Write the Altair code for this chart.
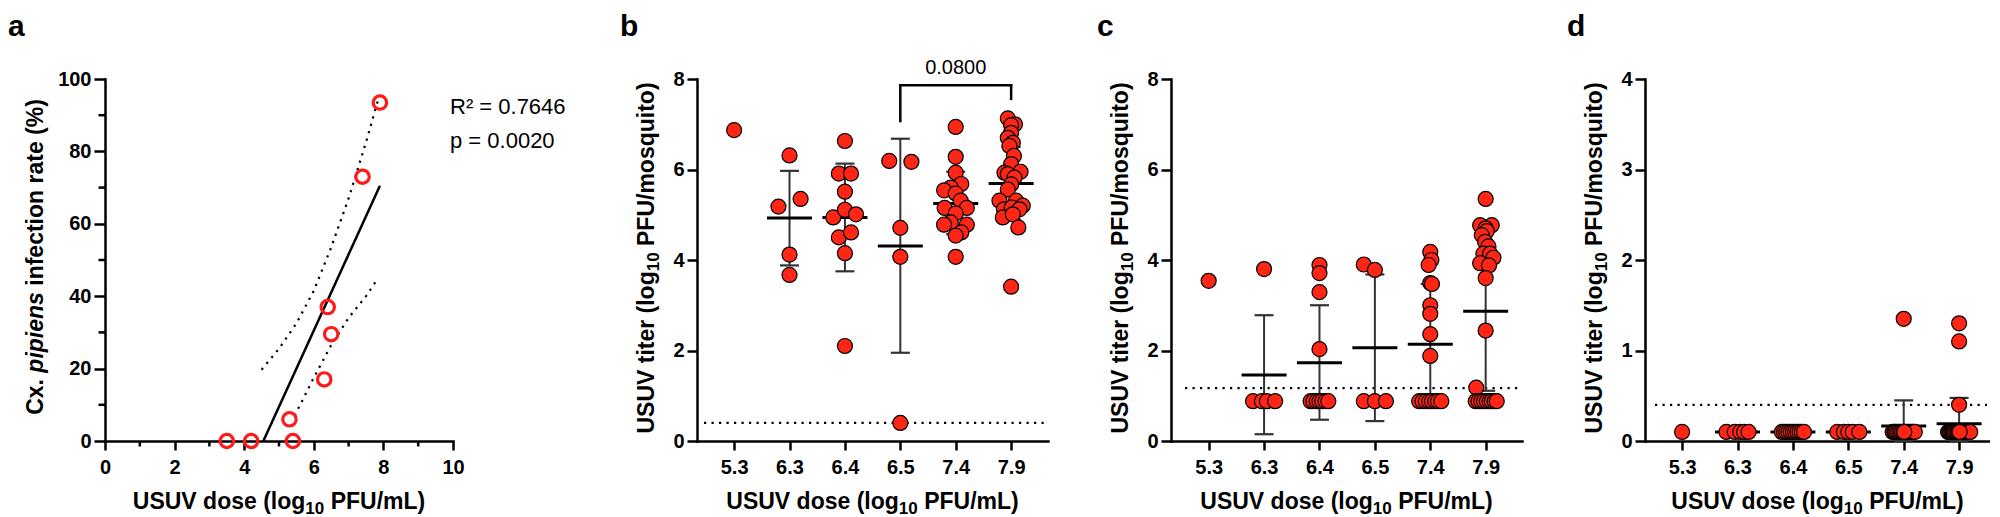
import altair as alt
import pandas as pd

FONT = "Liberation Sans"
RED_OPEN = "#FF1A1A"
RED_FILL = "#FF2616"

# ---------------- data ----------------
panel_labels = ["a", "b", "c", "d"]
dose_labels = ["5.3", "6.3", "6.4", "6.5", "7.4", "7.9"]

# panel a : infection rate vs dose
a_dose = [3.5, 4.2, 5.3, 5.4, 6.3, 6.4, 6.5, 7.4, 7.9]
a_rate = [0, 0, 6, 0, 17, 37, 29.5, 73, 93.5]
fit_dose = [4.55, 7.9]
fit_rate = [0, 70.5]
ci_hi_dose = [4.5, 5.0, 5.5, 6.0, 6.5, 7.0, 7.5, 7.84]
ci_hi_rate = [19.7, 25.5, 32.5, 41.5, 53.5, 67.0, 82.5, 94.0]
ci_lo_dose = [5.45, 6.0, 6.5, 7.0, 7.5, 7.82]
ci_lo_rate = [7.0, 17.5, 26.5, 34.0, 40.0, 44.6]
a_x_ticks = [0, 2, 4, 6, 8, 10]
a_x_minor = [1, 3, 5, 7, 9]
a_y_ticks = [0, 20, 40, 60, 80, 100]
a_y_minor = [10, 30, 50, 70, 90]
r2_text = "R² = 0.7646"
p_text = "p = 0.0020"

# panel b : body titer
b_titer = {
    "5.3": [6.87],
    "6.3": [6.31, 5.35, 5.18, 4.12, 3.67],
    "6.4": [6.63, 5.91, 5.91, 5.51, 4.94, 5.11, 5.01, 4.50, 4.61, 4.15, 2.10],
    "6.5": [6.19, 6.17, 4.71, 4.07, 0.40],
    "7.4": [6.94, 6.28, 5.93, 5.68, 5.60, 5.54, 5.47, 5.31, 5.15, 5.15, 5.03, 4.83, 4.78, 4.78, 4.61, 4.54, 4.07],
    "7.9": [7.13, 7.00, 6.98, 6.81, 6.70, 6.59, 6.52, 6.30, 6.12, 5.93, 5.95, 5.90, 5.82, 5.67, 5.56,
            5.31, 5.31, 5.20, 5.12, 5.16, 5.12, 4.94, 5.01, 4.72, 3.41],
}
b_jitter = {
    "5.3": [0],
    "6.3": [0, 0.2, -0.2, 0, 0],
    "6.4": [0, -0.11, 0.11, 0, -0.21, 0, 0.2, -0.11, 0.11, 0, 0],
    "6.5": [-0.2, 0.2, 0, 0, 0],
    "7.4": [0, 0, 0, 0.1, -0.09, -0.21, 0, 0.09, -0.2, 0.2, 0, -0.09, -0.21, 0.2, 0.1, 0, 0],
    "7.9": [-0.06, 0.07, 0, 0, -0.06, 0.03, -0.03, 0.05, 0, -0.12, 0.17, -0.06, 0.06, 0, -0.06,
            -0.21, 0.09, 0.21, -0.13, 0.01, 0.15, -0.15, 0.03, 0.13, 0],
}
b_mean = [4.93, 4.94, 4.31, 5.25, 5.69]      # groups 6.3 ... 7.9
b_sd_hi = [5.97, 6.13, 6.68, 5.95, 6.50]
b_sd_lo = [3.88, 3.75, 1.95, 4.57, 4.90]
b_lod = 0.40
b_p_text = "0.0800"
b_bracket_from, b_bracket_to = 3, 5
b_bracket_top, b_bracket_left_end, b_bracket_right_end = 7.86, 7.07, 7.56

# panel c : legs titer
c_titer = {
    "5.3": [3.54],
    "6.3": [3.80, 0.88, 0.88, 0.88, 0.88],
    "6.4": [3.89, 3.71, 3.29, 2.03, 0.88, 0.88, 0.88, 0.88, 0.88, 0.88, 0.88],
    "6.5": [3.90, 3.78, 0.88, 0.88, 0.88],
    "7.4": [4.18, 4.00, 3.89, 3.49, 3.47, 3.00, 2.81, 2.36, 1.88,
            0.88, 0.88, 0.88, 0.88, 0.88, 0.88, 0.88, 0.88],
    "7.9": [5.35, 4.77, 4.77, 4.70, 4.64, 4.55, 4.40, 4.30, 4.14, 4.14, 4.05, 3.93, 3.88, 3.60, 2.44, 1.18,
            0.88, 0.88, 0.88, 0.88, 0.88, 0.88, 0.88, 0.88, 0.88],
}
c_jitter = {
    "5.3": [0],
    "6.3": [0, -0.2, -0.04, 0.05, 0.2],
    "6.4": [0, 0, 0, 0, -0.16, -0.11, -0.05, 0, 0.05, 0.11, 0.16],
    "6.5": [-0.2, 0, -0.2, 0, 0.2],
    "7.4": [0, 0.02, -0.03, 0, 0.03, 0, 0, 0, 0,
            -0.2, -0.14, -0.08, -0.02, 0.03, 0.09, 0.14, 0.2],
    "7.9": [0, -0.1, 0.11, 0, 0.02, -0.07, -0.01, 0.05, -0.04, 0.08, 0.14, -0.1, 0.06, 0, 0, -0.17,
            -0.18, -0.13, -0.08, -0.03, 0.02, 0.07, 0.11, 0.16, 0.2],
}
c_mean = [1.46, 1.73, 2.06, 2.14, 2.87]
c_sd_hi = [2.78, 3.00, 3.68, 3.47, 4.63]
c_sd_lo = [0.15, 0.47, 0.44, 0.81, 1.11]
c_lod = 1.17

# panel d : saliva titer
d_titer = {
    "5.3": [0.1],
    "6.3": [0.1, 0.1, 0.1, 0.1, 0.1],
    "6.4": [0.1, 0.1, 0.1, 0.1, 0.1, 0.1, 0.1, 0.1, 0.1, 0.1, 0.1],
    "6.5": [0.1, 0.1, 0.1, 0.1, 0.1],
    "7.4": [1.35, 0.1, 0.1, 0.1, 0.1, 0.1, 0.1, 0.1, 0.1, 0.1, 0.1, 0.1, 0.1, 0.1, 0.1, 0.1, 0.1],
    "7.9": [1.30, 1.10, 0.40, 0.1, 0.1, 0.1, 0.1, 0.1, 0.1, 0.1, 0.1, 0.1, 0.1, 0.1, 0.1, 0.1,
            0.1, 0.1, 0.1, 0.1, 0.1, 0.1, 0.1, 0.1, 0.1],
}
d_jitter = {
    "5.3": [0],
    "6.3": [-0.2, -0.05, 0.05, 0.12, 0.2],
    "6.4": [-0.2, -0.16, -0.12, -0.08, -0.04, 0, 0.04, 0.08, 0.12, 0.16, 0.2],
    "6.5": [-0.2, -0.08, 0, 0.08, 0.2],
    "7.4": [0, -0.2, -0.17, -0.15, -0.12, -0.09, -0.06, -0.03, 0, 0.03, 0.06, 0.09, 0.12, 0.15, 0.17, 0.2, 0.01],
    "7.9": [0, 0, 0, -0.2, -0.18, -0.16, -0.14, -0.12, -0.1, -0.08, -0.05, -0.03, 0, 0.02, 0.04,
            0.06, 0.08, 0.1, 0.12, 0.14, 0.16, 0.18, 0.2, -0.01, 0.01],
}
d_mean = [0.1, 0.1, 0.1, 0.165, 0.19]
d_sd_hi = [0.1, 0.1, 0.1, 0.45, 0.476]
d_sd_lo = [0.1, 0.1, 0.1, 0.0, 0.0]
d_lod = 0.40

# ---------------- helpers ----------------
ONE = pd.DataFrame({"k": [0]})
W = {'U': .722, 'S': .667, 'V': .667, ' ': .278, 'd': .611, 'o': .611, 's': .556, 'e': .556,
     '(': .333, ')': .333, 'l': .278, 'g': .611, 'P': .667, 'F': .611, '/': .278, 'm': .889,
     'L': .611, 't': .333, 'i': .278, 'r': .389, 'q': .611, 'u': .611, 'C': .722, 'x': .556,
     '.': .278, 'p': .611, 'n': .611, 'f': .333, 'c': .556, 'a': .556, '%': .889, '1': .556, '0': .556}


def tw(s, size):
    return sum(W.get(ch, 0.556) for ch in s) * size


def T(text, x, y, size, angle=0, style="normal", weight="bold", align="left"):
    kw = dict(text=text, font=FONT, fontSize=size, fontWeight=weight, fontStyle=style,
              align=align, baseline="alphabetic", color="black")
    if angle:
        kw["angle"] = angle
    return alt.Chart(ONE).mark_text(**kw).encode(x=alt.value(x), y=alt.value(y))


def pieces_layers(pieces, anchor, center, vertical=False):
    total = sum(tw(s, sz) for s, sz, sh, st in pieces)
    pos = center + total / 2 if vertical else center - total / 2
    out = []
    for s, sz, sh, st in pieces:
        lead = len(s) - len(s.lstrip())
        txt = s.strip()
        if vertical:
            out.append(T(txt, anchor + sh, pos - lead * W[' '] * sz, sz, angle=270, style=st))
            pos -= tw(s, sz)
        else:
            out.append(T(txt, pos + lead * W[' '] * sz, anchor + sh, sz, style=st))
            pos += tw(s, sz)
    return out


TS = 23   # axis title font size
SUB = 17  # subscript font size
x_title = [("USUV dose (log", TS, 0, "normal"), ("10", SUB, 5, "normal"), (" PFU/mL)", TS, 0, "normal")]
y_title = [("USUV titer (log", TS, 0, "normal"), ("10", SUB, 5, "normal"), (" PFU/mosquito)", TS, 0, "normal")]
a_y_title = [("Cx. ", TS, 0, "normal"), ("pipiens", TS, 0, "italic"), (" infection rate (%)", TS, 0, "normal")]

H = 362
LBL_SIZE = 30
LBL_Y = -43
AX = dict(domainColor="black", domainWidth=2.5, domainCap="square", tickColor="black", tickWidth=2.5,
          labelFont=FONT, labelFontSize=20, labelFontWeight="bold", labelColor="black",
          grid=False, title=None, labelFlush=False, labelOverlap=False, labelBound=False)

# ---------------- panel a ----------------
ax_x = alt.X("x:Q", scale=alt.Scale(domain=[0, 10], nice=False, zero=False),
             axis=alt.Axis(values=a_x_ticks, tickSize=9, labelPadding=7, format="d", **AX))
ax_y = alt.Y("y:Q", scale=alt.Scale(domain=[0, 100], nice=False),
             axis=alt.Axis(values=a_y_ticks, tickSize=11, labelPadding=3, format="d", **AX))

A_W = 348
a_layers = [
    alt.Chart(pd.DataFrame({"x": fit_dose, "y": fit_rate})).mark_line(color="black", strokeWidth=2.5)
    .encode(x=ax_x, y=ax_y),
    alt.Chart(pd.DataFrame({"x": ci_hi_dose, "y": ci_hi_rate})).mark_line(
        color="black", strokeWidth=2.2, strokeDash=[2.2, 5.5]).encode(x=ax_x, y=ax_y),
    alt.Chart(pd.DataFrame({"x": ci_lo_dose, "y": ci_lo_rate})).mark_line(
        color="black", strokeWidth=2.2, strokeDash=[2.2, 5.5]).encode(x=ax_x, y=ax_y),
    alt.Chart(pd.DataFrame({"y": a_y_minor})).mark_rule(color="black", strokeWidth=2.5)
    .encode(y=ax_y, x=alt.value(-6.5), x2=alt.value(0)),
    alt.Chart(pd.DataFrame({"x": a_x_minor})).mark_rule(color="black", strokeWidth=2.5)
    .encode(x=ax_x, y=alt.value(H), y2=alt.value(H + 5.5)),
    alt.Chart(pd.DataFrame({"x": a_dose, "y": a_rate})).mark_point(
        shape="circle", filled=False, size=180, strokeWidth=3.2, color=RED_OPEN, opacity=1)
    .encode(x=ax_x, y=ax_y),
    T(r2_text, 345, 34.5, 22, weight="normal"),
    T(p_text, 345, 69.3, 22, weight="normal"),
    T(panel_labels[0], -97, LBL_Y, LBL_SIZE),
]
a_layers += pieces_layers(x_title, 430, A_W / 2)
a_layers += pieces_layers(a_y_title, -62.5, 178, vertical=True)
panel_a = alt.layer(*a_layers).properties(width=A_W, height=H)


# ---------------- dot panels ----------------
def dot_panel(titer, jitter, mean, hi, lo, lod, ymax, yticks, width, left, letter, letter_x, lod_x0,
              extra=None):
    step = 55.4
    right = left + width / step
    sx = alt.X("x:Q", scale=alt.Scale(domain=[left, right], nice=False, zero=False),
               axis=alt.Axis(values=list(range(len(dose_labels))), tickSize=9, labelPadding=7,
                             labelExpr="%s[datum.value]" % str(dose_labels), **AX))
    sy = alt.Y("y:Q", scale=alt.Scale(domain=[0, ymax], nice=False),
               axis=alt.Axis(values=yticks, tickSize=10, labelPadding=3, format="d", **AX))
    pts = []
    for i, lab in enumerate(dose_labels):
        for v, j in zip(titer[lab], jitter[lab]):
            pts.append({"x": i + j, "y": v})
    pts = pd.DataFrame(pts)
    idx = list(range(1, len(dose_labels)))
    stats = pd.DataFrame({"x": idx, "y": mean, "hi": hi, "lo": lo})
    layers = [
        alt.Chart(pd.DataFrame({"y": [lod]})).mark_rule(
            color="black", strokeWidth=2.2, strokeDash=[2.2, 5.3])
        .encode(y=sy, x=alt.value(lod_x0), x2=alt.value(width - 3)),
        alt.Chart(stats).mark_rule(color="#333333", strokeWidth=2)
        .encode(x=sx, y=alt.Y("lo:Q"), y2=alt.Y2("hi:Q")),
        alt.Chart(stats).mark_tick(orient="horizontal", size=19, thickness=2.2, color="#333333", opacity=1)
        .encode(x=sx, y=alt.Y("hi:Q")),
        alt.Chart(stats).mark_tick(orient="horizontal", size=19, thickness=2.2, color="#333333", opacity=1)
        .encode(x=sx, y=alt.Y("lo:Q")),
        alt.Chart(stats).mark_tick(orient="horizontal", size=45, thickness=3, color="black", opacity=1)
        .encode(x=sx, y=sy),
    ]
    if extra is not None:
        layers += extra(sx, sy)
    layers += [
        alt.Chart(pts).mark_circle(size=225, color=RED_FILL, stroke="black", strokeWidth=1.2, opacity=1)
        .encode(x=sx, y=sy),
        T(letter, letter_x, LBL_Y, LBL_SIZE),
    ]
    layers += pieces_layers(x_title, 430, width / 2)
    layers += pieces_layers(y_title, -43.5, 179, vertical=True)
    return alt.layer(*layers).properties(width=width, height=H)


def b_extra(sx, sy):
    seg = pd.DataFrame({
        "x": [b_bracket_from, b_bracket_from, b_bracket_to],
        "x2": [b_bracket_to, b_bracket_from, b_bracket_to],
        "y": [b_bracket_top, b_bracket_left_end, b_bracket_right_end],
        "y2": [b_bracket_top, b_bracket_top, b_bracket_top],
    })
    lab = pd.DataFrame({"x": [(b_bracket_from + b_bracket_to) / 2], "y": [8.12], "t": [b_p_text]})
    return [
        alt.Chart(seg).mark_rule(color="black", strokeWidth=2.5, strokeCap="square")
        .encode(x=sx, x2=alt.X2("x2:Q"), y=sy, y2=alt.Y2("y2:Q")),
        alt.Chart(lab).mark_text(font=FONT, fontSize=20, color="black", baseline="alphabetic", align="center")
        .encode(x=sx, y=sy, text="t:N"),
    ]


panel_b = dot_panel(b_titer, b_jitter, b_mean, b_sd_hi, b_sd_lo, b_lod, 8, [0, 2, 4, 6, 8], 351, -0.67,
                    panel_labels[1], -77, 7, extra=b_extra)
panel_c = dot_panel(c_titer, c_jitter, c_mean, c_sd_hi, c_sd_lo, c_lod, 8, [0, 2, 4, 6, 8], 351, -0.68,
                    panel_labels[2], -74, 14)
panel_d = dot_panel(d_titer, d_jitter, d_mean, d_sd_hi, d_sd_lo, d_lod, 4, [0, 1, 2, 3, 4], 345, -0.67,
                    panel_labels[3], -78, 10)

inner = alt.hconcat(panel_b, panel_c, panel_d, spacing=123, bounds="flush")
chart = alt.hconcat(panel_a, inner, spacing=244, bounds="flush",
                    padding={"left": 0, "top": 4, "right": 0, "bottom": 0},
                    background="white").configure_view(stroke=None)

chart.save("out.html", embed_options={"renderer": "svg", "actions": False})
